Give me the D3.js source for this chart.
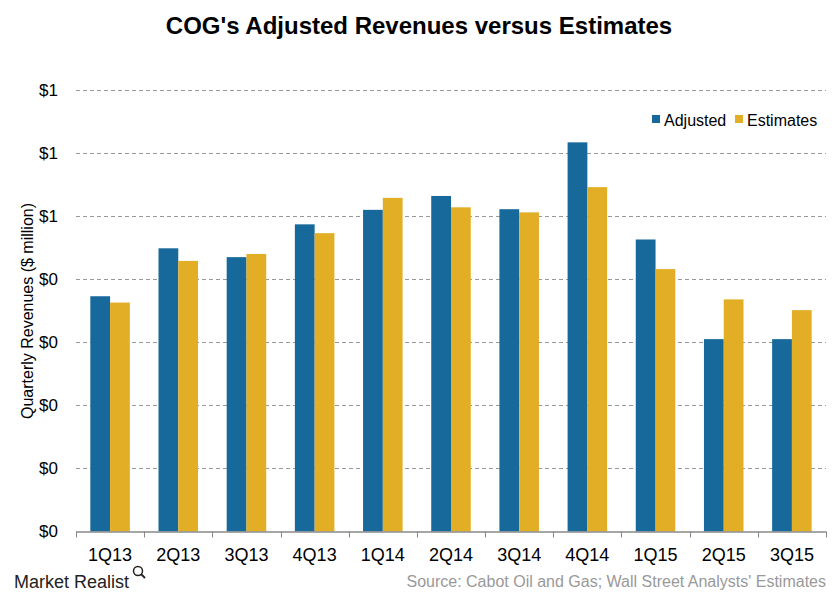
<!DOCTYPE html>
<html><head><meta charset="utf-8">
<script src="https://cdn.jsdelivr.net/npm/d3@7/dist/d3.min.js"></script>
<style>body{margin:0;background:#fff}svg{display:block;font-family:"Liberation Sans",Arial,sans-serif}</style>
</head><body>
<svg id="c" width="840" height="600"></svg>
<script>
const categories = ["1Q13","2Q13","3Q13","4Q13","1Q14","2Q14","3Q14","4Q14","1Q15","2Q15","3Q15"];
const adjusted = [0.373,0.449,0.435,0.487,0.510,0.532,0.511,0.617,0.463,0.305,0.305];
const estimates = [0.363,0.429,0.440,0.473,0.529,0.514,0.506,0.546,0.416,0.368,0.351];
const seriesNames = ["Adjusted","Estimates"];
const yTicks = [0,0.1,0.2,0.3,0.4,0.5,0.6,0.7];

const colors = ["#17689B","#E2AE26"];
const svg = d3.select("#c");
const m = {l:76, r:826, t:90, b:531.5};

const x = d3.scaleBand().domain(categories).range([m.l, m.r]).paddingInner(0.42).paddingOuter(0.21);
const xs = d3.scaleBand().domain(seriesNames).range([0, x.bandwidth()]);
const y = d3.scaleLinear().domain([0,0.7]).range([m.b, m.t]);

// gridlines
svg.append("g").selectAll("line").data(yTicks.filter(d=>d>0)).join("line")
  .attr("x1", m.l).attr("x2", m.r)
  .attr("y1", d=>Math.round(y(d))+0.5).attr("y2", d=>Math.round(y(d))+0.5)
  .attr("stroke","#999").attr("stroke-dasharray","4,3").attr("stroke-width",1);

// y labels
const yAxis = d3.axisLeft(y).tickValues(yTicks).tickFormat(d=>"$"+Math.round(d)).tickSize(0).tickPadding(0);
const ya = svg.append("g").attr("transform",`translate(58,0)`).call(yAxis);
ya.select(".domain").remove();
ya.selectAll("text").attr("font-size",17).attr("fill","#000").attr("font-family","Liberation Sans, Arial");

// bars
const data = categories.map((c,i)=>({c, vals:[adjusted[i], estimates[i]]}));
const g = svg.append("g").selectAll("g").data(data).join("g").attr("transform",d=>`translate(${x(d.c)},0)`);
g.selectAll("rect").data(d=>d.vals.map((v,j)=>({v, s:seriesNames[j], j}))).join("rect")
  .attr("x",d=>xs(d.s)).attr("width",xs.bandwidth())
  .attr("y",d=>y(d.v)).attr("height",d=>y(0)-y(d.v))
  .attr("fill",d=>colors[d.j]);

// x axis
svg.append("line").attr("x1",m.l).attr("x2",m.r).attr("y1",m.b+0.5).attr("y2",m.b+0.5).attr("stroke","#888").attr("stroke-width",1.5);
const tickXs = d3.range(categories.length+1).map(i=>m.l + i*(m.r-m.l)/categories.length);
svg.append("g").selectAll("line").data(tickXs).join("line")
  .attr("x1",d=>Math.round(d)+0.5).attr("x2",d=>Math.round(d)+0.5).attr("y1",m.b).attr("y2",m.b+6)
  .attr("stroke","#888").attr("stroke-width",1);
svg.append("g").selectAll("text").data(categories).join("text")
  .attr("x",d=>x(d)+x.bandwidth()/2).attr("y",561)
  .attr("text-anchor","middle").attr("font-size",18).attr("fill","#000").text(d=>d);

// y title
svg.append("text").attr("transform","translate(33,311) rotate(-90)").attr("text-anchor","middle")
  .attr("font-size",16).attr("fill","#000").text("Quarterly Revenues ($ million)");

// title
svg.append("text").attr("x",419).attr("y",34).attr("text-anchor","middle").attr("font-size",24).attr("font-weight","bold").attr("fill","#000")
  .text("COG's Adjusted Revenues versus Estimates");

// legend
const leg = svg.append("g");
const legX = [652, 735];
seriesNames.forEach((s,i)=>{
  leg.append("rect").attr("x",legX[i]).attr("y",115).attr("width",8).attr("height",8).attr("fill",colors[i]);
  leg.append("text").attr("x",legX[i]+12).attr("y",126).attr("font-size",16).attr("fill","#000").text(s);
});

// footer
svg.append("text").attr("x",14).attr("y",588).attr("font-size",18).attr("font-family","Liberation Sans Narrow, Arial Narrow, sans-serif").attr("fill","#222").text("Market Realist");
svg.append("circle").attr("cx",138).attr("cy",571).attr("r",4.5).attr("fill","none").attr("stroke","#222").attr("stroke-width",1.5);
svg.append("line").attr("x1",141).attr("y1",574).attr("x2",145).attr("y2",578).attr("stroke","#222").attr("stroke-width",1.8);
svg.append("text").attr("x",826).attr("y",587).attr("text-anchor","end").attr("font-size",16).attr("font-family","Liberation Sans Narrow, Arial Narrow, sans-serif").attr("fill","#999")
  .text("Source: Cabot Oil and Gas; Wall Street Analysts' Estimates");
</script>
</body></html>
